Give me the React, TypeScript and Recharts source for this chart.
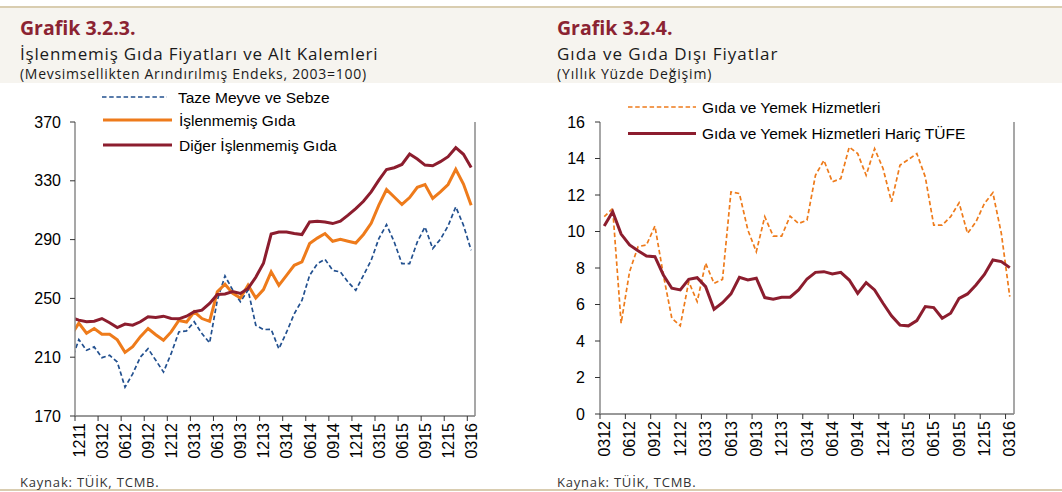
import React from 'react';
import { LineChart, Line, XAxis, YAxis } from 'recharts';

// Grafik 3.2.3 — monthly, Nov 2011 .. Mar 2016 (first point sits left of the axis and gets clipped)
const leftTickLabels = ['1211', '0312', '0612', '0912', '1212', '0313', '0613', '0913', '1213', '0314', '0614', '0914', '1214', '0315', '0615', '0915', '1215', '0316'];
const tazeMeyve = [207, 222, 214.7, 217, 209.7, 211.3, 206.7, 189.6, 198.7, 210.1, 215.8, 207.9, 199.9, 212.4, 227.2, 227.9, 234.1, 226.1, 219.7, 248.9, 265.3, 255.7, 247.7, 255.7, 231.8, 228.8, 229, 215.7, 227, 239.5, 248.6, 265.7, 273.6, 276.6, 269.1, 268, 261.1, 255.5, 265.7, 275.9, 290.7, 300.2, 288.4, 273.6, 273.6, 288.4, 298.6, 283.9, 290.2, 299.3, 312.3, 299.8, 282.7];
const islenmemisGida = [225, 233.2, 226.3, 229.5, 225.6, 225.6, 221.8, 213.3, 217.2, 224, 229.5, 225.3, 221.5, 227.2, 235, 233.9, 240.9, 236.3, 234.4, 254.5, 259.6, 253.4, 250.3, 259, 250.3, 256, 268.1, 258.9, 265.7, 272.5, 274.8, 287.3, 291, 294.1, 288.9, 290.2, 288.9, 287.7, 293.5, 301.1, 313.4, 324, 319, 313.9, 318.6, 325.6, 327.5, 318, 322.5, 327.5, 337.8, 327.8, 313.4];
const digerIslenmemis = [237, 235.2, 234.1, 234.5, 236.3, 233.4, 230.2, 232.5, 231.8, 234.1, 237.5, 237, 237.9, 236.3, 236.1, 237.9, 240.9, 242, 246.6, 252.7, 253, 254.6, 253.4, 256.8, 264.4, 273.9, 293.8, 295.2, 295.2, 294.1, 293.4, 302, 302.5, 302, 300.9, 302.5, 306.6, 311.1, 316.1, 322.5, 330.5, 337.7, 338.9, 341.1, 348.2, 344.8, 340.7, 340.2, 343, 346.4, 352.5, 348, 339.1];
const leftYTicks = [170, 210, 250, 290, 330, 370];

// Grafik 3.2.4 — monthly, Mar 2012 .. Mar 2016
const rightTickLabels = ['0312', '0612', '0912', '1212', '0313', '0613', '0913', '1213', '0314', '0614', '0914', '1214', '0315', '0615', '0915', '1215', '0316'];
const gidaYemek = [10.81, 11.26, 4.97, 7.8, 9.17, 9.26, 10.3, 7.62, 5.25, 4.83, 7.25, 6.16, 8.26, 7.16, 7.38, 12.17, 12.08, 10.08, 8.89, 10.81, 9.75, 9.75, 10.84, 10.44, 10.62, 13.08, 13.9, 12.72, 12.9, 14.63, 14.27, 13.08, 14.54, 13.45, 11.63, 13.63, 13.94, 14.27, 12.99, 10.35, 10.35, 10.81, 11.57, 9.9, 10.53, 11.54, 12.12, 9.9, 6.43];
const haricTufe = [10.3, 11.08, 9.86, 9.26, 8.95, 8.66, 8.62, 7.62, 6.89, 6.8, 7.38, 7.47, 6.98, 5.74, 6.1, 6.58, 7.49, 7.34, 7.44, 6.38, 6.29, 6.4, 6.4, 6.8, 7.4, 7.76, 7.8, 7.67, 7.76, 7.34, 6.61, 7.2, 6.8, 6.07, 5.38, 4.87, 4.83, 5.12, 5.89, 5.83, 5.25, 5.52, 6.34, 6.58, 7.07, 7.65, 8.44, 8.35, 8.02];
const rightYTicks = [0, 2, 4, 6, 8, 10, 12, 14, 16];

const leftData = tazeMeyve.map((v, i) => ({ x: i - 0.5, taze: v, islenmemis: islenmemisGida[i], diger: digerIslenmemis[i] }));
const rightData = gidaYemek.map((v, i) => ({ x: i + 0.5, gida: v, haric: haricTufe[i] }));

const AX = '"Liberation Sans", Arial, sans-serif';
const HEAD = '"Open Sans", sans-serif';
const BLUE = '#22508f';
const ORANGE = '#ee7b1b';
const MAROON = '#8c1d2e';

const tickStyle = { fill: '#000', fontSize: 16, fontFamily: AX };

function xTick(labels: string[]) {
  return (p: any) => (
    <text
      transform={`translate(${p.x + 4},${p.y}) rotate(-90)`}
      textAnchor="end"
      dy="0.36em"
      fontSize={16}
      fontFamily={AX}
      fill="#000"
    >
      {labels[Math.round(p.payload.value / 3)]}
    </text>
  );
}

export default function App() {
  const leftTicks = leftTickLabels.map((_, i) => i * 3);
  const rightTicks = rightTickLabels.map((_, i) => i * 3);

  return (
    <div style={{ position: 'absolute', left: 0, top: 0, width: 1062, height: 492, background: '#fff', overflow: 'hidden' }}>
      <div style={{ position: 'absolute', left: 0, top: 6, width: 1062, height: 1.5, background: '#d9cdb0' }} />
      <div style={{ position: 'absolute', left: 0, top: 7.5, width: 1062, height: 75.5, background: '#f6f4ef' }} />
      <div style={{ position: 'absolute', left: 0, top: 489, width: 1062, height: 2, background: '#d9cdb0' }} />

      <div style={{ position: 'absolute', left: 0, top: 0 }}>
        <LineChart width={530} height={492} data={leftData} margin={{ top: 122, right: 0, bottom: 26, left: 20 }}>
          <XAxis
            dataKey="x"
            type="number"
            domain={[0, 52]}
            ticks={leftTicks}
            interval={0}
            allowDataOverflow
            height={50}
            tickSize={5}
            axisLine={{ stroke: '#333' }}
            tickLine={{ stroke: '#333' }}
            tick={xTick(leftTickLabels)}
          />
          <YAxis
            yAxisId="l"
            domain={[170, 370]}
            ticks={leftYTicks}
            width={55}
            tickSize={5}
            tickMargin={9}
            axisLine={{ stroke: '#8a8a8a', strokeWidth: 1.5 }}
            tickLine={{ stroke: '#333' }}
            tick={tickStyle}
          />
          <YAxis
            yAxisId="r"
            orientation="right"
            domain={[170, 370]}
            ticks={leftYTicks}
            width={55}
            tickSize={5}
            tickMargin={2}
            axisLine={{ stroke: '#8a8a8a', strokeWidth: 1.5 }}
            tickLine={{ stroke: '#333' }}
            tick={tickStyle}
          />
          <Line yAxisId="l" dataKey="taze" type="linear" stroke={BLUE} strokeWidth={1.7} strokeDasharray="4.5 2.7" dot={false} isAnimationActive={false} />
          <Line yAxisId="l" dataKey="islenmemis" type="linear" stroke={ORANGE} strokeWidth={3} dot={false} isAnimationActive={false} />
          <Line yAxisId="l" dataKey="diger" type="linear" stroke={MAROON} strokeWidth={3} dot={false} isAnimationActive={false} />
        </LineChart>
      </div>

      <div style={{ position: 'absolute', left: 530, top: 0 }}>
        <LineChart width={532} height={492} data={rightData} margin={{ top: 122, right: 3, bottom: 28, left: 15 }}>
          <XAxis
            dataKey="x"
            type="number"
            domain={[0, 49]}
            ticks={rightTicks}
            interval={0}
            allowDataOverflow
            height={50}
            tickSize={5}
            axisLine={{ stroke: '#333' }}
            tickLine={{ stroke: '#333' }}
            tick={xTick(rightTickLabels)}
          />
          <YAxis
            yAxisId="l"
            domain={[0, 16]}
            ticks={rightYTicks}
            width={55}
            tickSize={5}
            tickMargin={10}
            axisLine={{ stroke: '#8a8a8a', strokeWidth: 1.5 }}
            tickLine={{ stroke: '#333' }}
            tick={tickStyle}
          />
          <YAxis
            yAxisId="r"
            orientation="right"
            domain={[0, 16]}
            ticks={rightYTicks}
            width={45}
            tickSize={5}
            tickMargin={1}
            axisLine={{ stroke: '#8a8a8a', strokeWidth: 1.5 }}
            tickLine={{ stroke: '#333' }}
            tick={tickStyle}
          />
          <Line yAxisId="l" dataKey="gida" type="linear" stroke={ORANGE} strokeWidth={1.7} strokeDasharray="4.5 2.7" dot={false} isAnimationActive={false} />
          <Line yAxisId="l" dataKey="haric" type="linear" stroke={MAROON} strokeWidth={3} dot={false} isAnimationActive={false} />
        </LineChart>
      </div>

      <svg width={1062} height={492} style={{ position: 'absolute', left: 0, top: 0, pointerEvents: 'none' }}>
        <g fontFamily={HEAD}>
          <text x={20} y={34.5} fontSize={19.5} fontWeight={700} fill="#8b2332">Grafik 3.2.3.</text>
          <text x={20} y={60} fontSize={17} letterSpacing={0.8} fill="#1a1a1a">İşlenmemiş Gıda Fiyatları ve Alt Kalemleri</text>
          <text x={20} y={78.5} fontSize={14} letterSpacing={0.72} fill="#1a1a1a">(Mevsimsellikten Arındırılmış Endeks, 2003=100)</text>
          <text x={557} y={34.5} fontSize={19.5} fontWeight={700} fill="#8b2332">Grafik 3.2.4.</text>
          <text x={557} y={60} fontSize={17} letterSpacing={1} fill="#1a1a1a">Gıda ve Gıda Dışı Fiyatlar</text>
          <text x={557} y={78.5} fontSize={14} letterSpacing={0.85} fill="#1a1a1a">(Yıllık Yüzde Değişim)</text>
          <text x={20} y={487} fontSize={13} letterSpacing={0.8} fill="#333">Kaynak: TÜİK, TCMB.</text>
          <text x={557} y={487} fontSize={13} letterSpacing={0.8} fill="#333">Kaynak: TÜİK, TCMB.</text>
        </g>
        <g fontFamily={AX} fontSize={15.5} fill="#000">
          <line x1={102} x2={167} y1={97} y2={97} stroke={BLUE} strokeWidth={1.7} strokeDasharray="4.5 2.7" />
          <text x={178} y={102.5}>Taze Meyve ve Sebze</text>
          <line x1={103} x2={172} y1={120} y2={120} stroke={ORANGE} strokeWidth={3} />
          <text x={179} y={125.5}>İşlenmemiş Gıda</text>
          <line x1={103} x2={172} y1={145} y2={145} stroke={MAROON} strokeWidth={3} />
          <text x={179} y={150.5}>Diğer İşlenmemiş Gıda</text>

          <line x1={628} x2={696} y1={107} y2={107} stroke={ORANGE} strokeWidth={1.7} strokeDasharray="4.5 2.7" />
          <text x={702} y={112.5}>Gıda ve Yemek Hizmetleri</text>
          <line x1={628} x2={696} y1={133.5} y2={133.5} stroke={MAROON} strokeWidth={3} />
          <text x={702} y={139}>Gıda ve Yemek Hizmetleri Hariç TÜFE</text>
        </g>
      </svg>
    </div>
  );
}
